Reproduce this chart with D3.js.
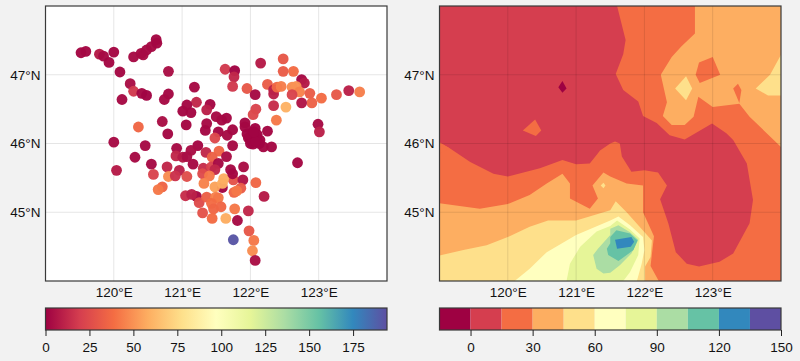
<!DOCTYPE html>
<html>
<head>
<meta charset="utf-8">
<script src="https://cdn.jsdelivr.net/npm/d3@7"></script>
<style>
  html, body { margin: 0; padding: 0; background: #f2f2f2; }
  svg { display: block; }
  text { font-family: "Liberation Sans", Arial, sans-serif; fill: #111; }
</style>
</head>
<body>
<div id="chart"></div>
<script>
// Station values, same order in all three lists
const stationLon = [
  119.52, 119.59, 119.79, 119.85, 119.93, 120.00, 120.09, 120.29, 120.43, 120.40,
  120.48, 120.55, 120.63, 120.62, 120.80, 120.24, 120.29, 120.41, 120.48, 120.12,
  120.80, 120.74, 121.18, 121.21, 121.07, 121.01, 121.13, 121.41, 121.36, 120.71,
  120.36, 121.06, 120.79, 121.36, 121.34, 121.50, 121.58, 121.65, 121.53, 121.48,
  121.66, 120.00, 120.46, 120.92, 121.23, 121.13, 121.35, 121.59, 121.21, 121.54,
  121.44, 121.65, 120.91, 121.01, 121.07, 121.16, 120.31, 120.55, 120.78, 120.04,
  120.58, 120.96, 121.31, 121.43, 121.53, 121.48, 121.30, 120.80, 120.90, 121.07,
  121.40, 121.32, 121.48, 121.75, 121.61, 121.59, 120.71, 120.65, 121.05, 121.14,
  121.25, 121.36, 121.49, 121.53, 121.43, 121.46, 121.57, 121.30, 121.44, 121.64,
  121.74, 121.71, 121.74, 121.90, 121.89, 121.86, 121.76, 121.80, 122.08, 122.20,
  122.69, 121.77, 121.97, 121.81, 121.98, 122.05, 121.75, 122.03, 122.07, 122.48,
  122.15, 121.63, 121.77, 121.76, 122.48, 122.63, 121.74, 121.95, 122.25, 122.75,
  122.79, 122.34, 122.34, 122.39, 122.45, 122.61, 122.67, 122.72, 122.87, 122.61,
  122.07, 123.04, 123.26, 123.44, 123.60, 122.90, 122.75, 122.34, 122.52, 122.08,
  122.04, 122.38, 122.99, 123.01, 121.92, 121.92, 122.07, 122.25, 122.07, 121.97,
  122.09, 122.14, 122.04, 122.19, 122.31, 122.02, 121.74, 122.00, 122.10, 122.13,
  122.00, 122.08, 121.95, 122.05
]
const stationLat = [
  47.32, 47.34, 47.30, 47.27, 47.18, 47.33, 47.04, 47.26, 47.29, 47.31,
  47.36, 47.41, 47.46, 47.51, 47.05, 46.87, 46.76, 46.73, 46.70, 46.64,
  46.72, 46.64, 46.82, 46.60, 46.56, 46.47, 46.45, 46.57, 46.49, 46.32,
  46.24, 46.27, 46.14, 46.29, 46.19, 46.39, 46.34, 46.37, 46.17, 46.08,
  46.12, 46.02, 45.97, 45.93, 45.97, 45.90, 45.87, 45.36, 45.23, 45.89,
  45.80, 45.81, 45.82, 45.80, 45.81, 45.70, 45.80, 45.70, 45.66, 45.61,
  45.55, 45.61, 45.64, 45.66, 45.71, 45.62, 45.56, 45.52, 45.53, 45.52,
  45.53, 45.42, 45.37, 45.47, 45.49, 45.42, 45.37, 45.33, 45.24, 45.26,
  45.14, 45.22, 45.22, 45.21, 45.13, 45.05, 45.08, 44.99, 44.91, 44.91,
  45.97, 45.62, 45.56, 45.66, 45.47, 45.35, 45.29, 45.31, 45.43, 45.23,
  45.72, 45.05, 45.02, 44.88, 44.73, 44.59, 44.60, 44.44, 44.30, 47.23,
  47.17, 47.08, 47.06, 46.97, 47.05, 47.05, 46.83, 46.80, 46.86, 46.93,
  46.88, 46.78, 46.72, 46.82, 46.83, 46.82, 46.83, 46.75, 46.73, 46.71,
  46.71, 46.66, 46.71, 46.77, 46.75, 46.59, 46.59, 46.55, 46.53, 46.50,
  46.42, 46.34, 46.28, 46.17, 46.30, 46.24, 46.22, 46.18, 46.12, 46.08,
  46.08, 46.05, 45.99, 45.95, 45.95, 46.15, 46.20, 46.05, 46.13, 46.00,
  46.00, 46.03, 46.14, 46.17
]
const stationValue = [
  2, 2, 8, 3, 2, 2, 2, 3, 4, 3,
  3, 3, 2, 2, 4, 4, 18, 2, 1, 3,
  2, 3, 3, 12, 2, 2, 2, 2, 10, 4,
  36, 2, 2, 3, 2, 3, 3, 2, 2, 24,
  3, 3, 3, 3, 2, 4, 12, 1, 2, 36,
  34, 4, 12, 8, 4, 3, 3, 3, 12, 8,
  22, 10, 14, 22, 3, 12, 25, 48, 16, 26,
  42, 45, 55, 28, 58, 58, 35, 42, 14, 10,
  25, 33, 45, 42, 38, 36, 36, 28, 38, 58,
  3, 3, 2, 4, 6, 32, 36, 42, 36, 8,
  2, 42, 12, 3, 30, 42, 192, 48, 4, 30,
  8, 18, 1, 12, 32, 38, 18, 30, 32, 2,
  8, 10, 10, 36, 44, 48, 50, 45, 32, 22,
  3, 38, 30, 10, 44, 34, 6, 14, 60, 22,
  24, 42, 3, 10, 2, 2, 1, 2, 1, 2,
  1, 1, 2, 2, 2, 1, 2, 1, 1, 1,
  1, 1, 1, 1
]

// Filled contour areas of the right panel as [lon, lat] rings, painted in this order
const areaLevels = [20, 20, 35, 20, 20, 50, 50, 35, 50, 65, 80, 95, 110, 125, 50, -5, 20]
const areaRings = [
  // everything at 15 and above, the red tongue stays uncovered
  [[119, 44], [124, 44], [124, 48], [121.6, 48], [121.725, 47.505], [121.69, 47.3], [121.58, 47.01], [121.69, 46.78], [121.91, 46.61], [121.98, 46.4], [122.18, 46.3], [122.37, 46.12], [122.59, 46.06], [122.99, 46.29], [123.2, 46.15], [123.3, 46.05], [123.5, 45.71], [123.59, 45.18], [123.54, 44.84], [123.3, 44.4], [123.1, 44.28], [122.8, 44.21], [122.62, 44.25], [122.46, 44.42], [122.35, 44.84], [122.23, 45.19], [122.33, 45.39], [122.2, 45.58], [122, 45.61], [121.81, 45.59], [121.67, 45.81], [121.64, 46], [121.57, 46.03], [121.5, 46], [121.35, 45.9], [121.32, 45.86], [121.2, 45.71], [121, 45.7], [120.8, 45.76], [120.47, 45.64], [120, 45.52], [119.79, 45.56], [119.45, 45.73], [119.15, 45.93], [119, 46.02]],
  // island inside the red area
  [[120.4, 46.35], [120.49, 46.19], [120.41, 46.11], [120.22, 46.19]],
  // upper right, 30 and above
  [[122.74, 48], [124, 48], [124, 45.95], [123.54, 46.39], [123.39, 46.58], [123, 46.53], [122.79, 46.68], [122.72, 46.39], [122.59, 46.27], [122.4, 46.27], [122.27, 46.4], [122.33, 46.6], [122.24, 47], [122.4, 47.26], [122.54, 47.41], [122.74, 47.6]],
  [[122.8, 47.18], [123, 47.26], [123.11, 47], [122.81, 46.88], [122.75, 47]],
  [[123.37, 46.87], [123.42, 46.78], [123.39, 46.59], [123.3, 46.8]],
  [[122.61, 46.98], [122.7, 46.8], [122.61, 46.63], [122.45, 46.8]],
  [[124, 47.29], [123.84, 47], [123.63, 46.8], [123.81, 46.7], [124, 46.7]],
  // south, painted from the outside in
  [[119, 44], [122.21, 44], [122.09, 44.22], [122.14, 44.65], [121.98, 45], [121.98, 45.39], [121.74, 45.42], [121.5, 45.52], [121.4, 45.58], [121.24, 45.39], [121.32, 45.2], [121.2, 45.05], [120.91, 45.2], [120.91, 45.42], [120.8, 45.56], [120.57, 45.42], [120.32, 45.25], [120, 45.12], [119.59, 45.05], [119, 45.13]],
  [[119, 44], [122.01, 44], [122.01, 44.21], [122.09, 44.35], [122.11, 44.59], [121.91, 44.81], [121.74, 45], [121.58, 45.16], [121.5, 45.03], [121, 44.88], [120.59, 44.88], [120.32, 44.79], [120, 44.64], [119.69, 44.52], [119.35, 44.45], [119, 44.37]],
  [[120.1, 44], [121.89, 44], [121.96, 44.25], [122, 44.45], [121.98, 44.64], [121.79, 44.81], [121.62, 44.94], [121.5, 44.88], [121, 44.67], [120.57, 44.42], [120.32, 44.18]],
  [[120.86, 44], [121.69, 44], [121.79, 44.13], [121.91, 44.38], [121.93, 44.62], [121.79, 44.75], [121.6, 44.88], [121.5, 44.8], [121.3, 44.72], [121.06, 44.5], [120.91, 44.25]],
  [[121.5, 44.67], [121.32, 44.47], [121.25, 44.38], [121.3, 44.18], [121.4, 44.11], [121.5, 44.12], [121.64, 44.23], [121.81, 44.4], [121.91, 44.6], [121.79, 44.71], [121.62, 44.81], [121.5, 44.76]],
  [[121.5, 44.55], [121.45, 44.47], [121.47, 44.38], [121.62, 44.29], [121.84, 44.45], [121.9, 44.59], [121.79, 44.69], [121.59, 44.74], [121.5, 44.64]],
  [[121.57, 44.6], [121.81, 44.64], [121.85, 44.57], [121.8, 44.5], [121.6, 44.47]],
  [[121.4, 45.43], [121.43, 45.39], [121.4, 45.35], [121.36, 45.39]],
  // low spot in the north
  [[120.8, 46.91], [120.86, 46.8], [120.8, 46.74], [120.74, 46.82]],
  [[119, 46.01], [119.15, 45.93], [119, 45.85]]
]

const lonTicks = [120, 121, 122, 123]
const latTicks = [45, 46, 47]
const spectral = ['#9e0142', '#d53e4f', '#f46d43', '#fdae61', '#fee08b', '#ffffbf', '#e6f598', '#abdda4', '#66c2a5', '#3288bd', '#5e4fa2']
const valueTicks = [0, 25, 50, 75, 100, 125, 150, 175]
const valueMax = 194.3
const bandEdges = [-15, 0, 15, 30, 45, 60, 75, 90, 105, 120, 135, 150]
const bandTicks = [0, 30, 60, 90, 120, 150]

const dimensions = {
  width: 800,
  height: 361,
  top: 6,
  bottom: 281,
  panels: [[45.5, 387], [439.5, 781]],
  barTop: 308,
  barBottom: 330
}

const svg = d3.select('#chart').append('svg')
  .attr('width', dimensions.width)
  .attr('height', dimensions.height)

const yScale = d3.scaleLinear().domain([44, 48]).range([dimensions.bottom, dimensions.top])

const valueColor = d3.scaleLinear()
  .domain(spectral.map((d, i) => i / (spectral.length - 1) * valueMax))
  .range(spectral)
  .interpolate(d3.interpolateRgb)

const bandColor = d3.scaleThreshold()
  .domain(bandEdges.slice(1, -1))
  .range(spectral)

function drawGrid (g, xScale) {
  const grid = g.append('g')
    .attr('stroke', '#000')
    .attr('stroke-opacity', 0.1)
    .attr('stroke-width', 1)
  grid.selectAll('.v').data(lonTicks).join('line')
    .attr('class', 'v')
    .attr('x1', d => xScale(d)).attr('x2', d => xScale(d))
    .attr('y1', dimensions.top).attr('y2', dimensions.bottom)
  grid.selectAll('.h').data(latTicks).join('line')
    .attr('class', 'h')
    .attr('y1', d => yScale(d)).attr('y2', d => yScale(d))
    .attr('x1', xScale.range()[0]).attr('x2', xScale.range()[1])
}

function drawFrame (g, x0, x1, y0, y1) {
  g.append('rect')
    .attr('x', x0).attr('y', y0)
    .attr('width', x1 - x0).attr('height', y1 - y0)
    .attr('fill', 'none')
    .attr('stroke', '#3a3a3a')
    .attr('stroke-width', 1.2)
}

function drawLabels (g, xScale) {
  const bottom = g.append('g')
    .attr('transform', `translate(0, ${dimensions.bottom})`)
    .call(d3.axisBottom(xScale).tickValues(lonTicks).tickSize(0).tickPadding(6).tickFormat(d => `${d}°E`))
  const left = g.append('g')
    .attr('transform', `translate(${xScale.range()[0]}, 0)`)
    .call(d3.axisLeft(yScale).tickValues(latTicks).tickSize(0).tickPadding(5).tickFormat(d => `${d}°N`))
  for (const axis of [bottom, left]) {
    axis.select('.domain').remove()
    axis.selectAll('text').style('font-size', '13.5px').style('font-family', '"Liberation Sans", Arial, sans-serif')
  }
}

function drawBarAxis (g, scale, ticks) {
  const axis = g.append('g')
    .attr('transform', `translate(0, ${dimensions.barBottom})`)
    .call(d3.axisBottom(scale).tickValues(ticks).tickSize(6).tickPadding(6))
  axis.select('.domain').remove()
  axis.selectAll('line').attr('stroke', '#222').attr('stroke-width', 1)
  axis.selectAll('text').style('font-size', '13.5px').style('font-family', '"Liberation Sans", Arial, sans-serif')
}

//
// Left panel, stations
const xLeft = d3.scaleLinear().domain([119, 124]).range(dimensions.panels[0])
const left = svg.append('g')
left.append('rect')
  .attr('x', xLeft.range()[0]).attr('y', dimensions.top)
  .attr('width', xLeft.range()[1] - xLeft.range()[0]).attr('height', dimensions.bottom - dimensions.top)
  .attr('fill', '#fff')
drawGrid(left, xLeft)
left.selectAll('circle')
  .data(stationValue)
  .join('circle')
  .attr('cx', (d, i) => xLeft(stationLon[i]))
  .attr('cy', (d, i) => yScale(stationLat[i]))
  .attr('r', 5.4)
  .attr('fill', d => valueColor(d))
  .attr('fill-opacity', 0.97)
drawFrame(left, xLeft.range()[0], xLeft.range()[1], dimensions.top, dimensions.bottom)
drawLabels(left, xLeft)

// Left colorbar
const xValue = d3.scaleLinear().domain([0, valueMax]).range(dimensions.panels[0])
const gradient = svg.append('defs').append('linearGradient').attr('id', 'spectral')
gradient.selectAll('stop').data(spectral).join('stop')
  .attr('offset', (d, i) => i / (spectral.length - 1))
  .attr('stop-color', d => d)
left.append('rect')
  .attr('x', xValue(0)).attr('y', dimensions.barTop)
  .attr('width', xValue(valueMax) - xValue(0)).attr('height', dimensions.barBottom - dimensions.barTop)
  .attr('fill', 'url(#spectral)')
drawFrame(left, xValue(0), xValue(valueMax), dimensions.barTop, dimensions.barBottom)
drawBarAxis(left, xValue, valueTicks)

//
// Right panel, filled contours
const xRight = d3.scaleLinear().domain([119, 124]).range(dimensions.panels[1])
const right = svg.append('g')
right.append('rect')
  .attr('x', xRight.range()[0]).attr('y', dimensions.top)
  .attr('width', xRight.range()[1] - xRight.range()[0]).attr('height', dimensions.bottom - dimensions.top)
  .attr('fill', bandColor(5))

const ring = d3.line()
  .x(d => xRight(d[0]))
  .y(d => yScale(d[1]))

right.selectAll('path.area')
  .data(areaRings)
  .join('path')
  .attr('class', 'area')
  .attr('d', d => ring(d) + 'Z')
  .attr('fill', (d, i) => bandColor(areaLevels[i]))
drawGrid(right, xRight)
drawFrame(right, xRight.range()[0], xRight.range()[1], dimensions.top, dimensions.bottom)
drawLabels(right, xRight)

// Right colorbar
const xBand = d3.scaleLinear().domain([-15, 150]).range(dimensions.panels[1])
right.selectAll('rect.band')
  .data(spectral)
  .join('rect')
  .attr('class', 'band')
  .attr('x', (d, i) => xBand(bandEdges[i]))
  .attr('y', dimensions.barTop)
  .attr('width', (d, i) => xBand(bandEdges[i + 1]) - xBand(bandEdges[i]))
  .attr('height', dimensions.barBottom - dimensions.barTop)
  .attr('fill', d => d)
drawFrame(right, xBand(-15), xBand(150), dimensions.barTop, dimensions.barBottom)
drawBarAxis(right, xBand, bandTicks)
</script>
</body>
</html>
